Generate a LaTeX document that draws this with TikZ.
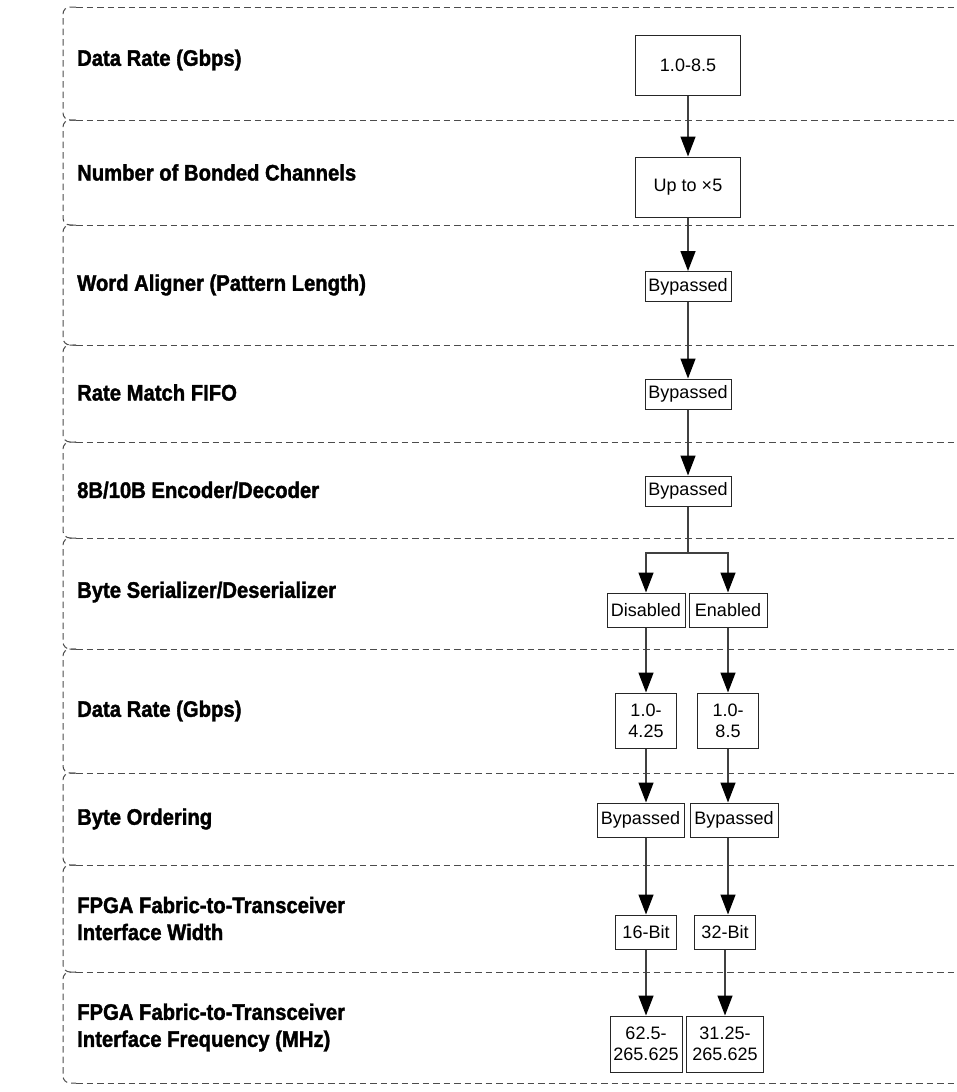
\documentclass[tikz,border=0pt]{standalone}
\usepackage{fontspec}
\setmainfont{Liberation Sans}
\newfontfamily\labelfont{Liberation Sans}[FakeStretch=0.9,BoldFeatures={FakeBold=1.6}]
\usetikzlibrary{arrows.meta}
\begin{document}
\begin{tikzpicture}[x=1pt,y=-1pt,
  band/.style={draw=black!70,line width=1pt,dash pattern=on 6.5pt off 4pt},
  lbl/.style={anchor=west,inner sep=0pt,align=left,font=\labelfont\bfseries\fontsize{22.5}{27}\selectfont},
  box/.style={draw=black!85,line width=1pt,inner sep=0pt,align=center,font=\fontsize{18}{21}\selectfont},
  arr/.style={draw=black!75,line width=1.4pt,-{Triangle[length=20pt,width=15pt,color=black]}},
  ln/.style={draw=black!75,line width=1.4pt}]
\useasboundingbox (0,0) rectangle (957,1092);
% bands
\foreach \t/\b in {7/120,120/225,225/345,345/442,442/538,538/649,649/773,773/865,865/972,972/1083}
  \draw[band,rounded corners=7pt] (76,\t) -- (63,\t) -- (63,\b) -- (76,\b);
\foreach \y in {7,120,225,345,442,538,649,773,865,972,1083}
  \draw[band] (76,\y) -- (962,\y);
% labels
\node[lbl] (l1) at (77,60) {Data Rate (Gbps)};
\node[lbl] (l2) at (77,172.5) {Number of Bonded Channels};
\node[lbl] (l3) at (77,285) {Word Aligner (Pattern Length)};
\node[lbl] (l4) at (77,392.5) {Rate Match FIFO};
\node[lbl] (l5) at (77,490) {8B/10B Encoder/Decoder};
\node[lbl] (l6) at (77,592) {Byte Serializer/Deserializer};
\node[lbl] (l7) at (77,711) {Data Rate (Gbps)};
\node[lbl] (l8) at (77,819) {Byte Ordering};
\node[lbl] (l9) at (77,918.5) {FPGA Fabric-to-Transceiver\\Interface Width};
\node[lbl] (l10) at (77,1027.5) {FPGA Fabric-to-Transceiver\\Interface Frequency (MHz)};
% boxes
\node[box,minimum width=105,minimum height=60] (dr) at (688,65) {1.0-8.5};
\node[box,minimum width=105,minimum height=60] (bc) at (688,187) {Up to ×5};
\node[box,minimum width=86,minimum height=30] (wa) at (688,286.5) {Bypassed};
\node[box,minimum width=86,minimum height=30] (rm) at (688,394) {Bypassed};
\node[box,minimum width=86,minimum height=30] (ed) at (688,491) {Bypassed};
\coordinate (split) at (688,553);
\node[box,minimum width=78,minimum height=34] (dis) at (646,610) {Disabled};
\node[box,minimum width=78,minimum height=34] (en) at (728,610) {Enabled};
\node[box,minimum width=61,minimum height=55] (r1) at (646,720.5) {1.0-\\4.25};
\node[box,minimum width=61,minimum height=55] (r2) at (728,720.5) {1.0-\\8.5};
\node[box,minimum width=87,minimum height=34] (bo1) at (640.5,820) {Bypassed};
\node[box,minimum width=88,minimum height=34] (bo2) at (734,820) {Bypassed};
\node[box,minimum width=61,minimum height=34] (w1) at (646,932) {16-Bit};
\node[box,minimum width=61,minimum height=34] (w2) at (725,932) {32-Bit};
\node[box,minimum width=72,minimum height=56] (f1) at (646,1044) {62.5-\\265.625};
\node[box,minimum width=77,minimum height=56] (f2) at (725,1044) {31.25-\\265.625};
% connectors
\draw[arr] (dr) -- (bc);
\draw[arr] (bc) -- (wa);
\draw[arr] (wa) -- (rm);
\draw[arr] (rm) -- (ed);
\draw[ln] (ed.south) -- (split);
\draw[arr] (split) -| (dis.north);
\draw[arr] (split) -| (en.north);
\draw[arr] (dis) -- (r1);
\draw[arr] (en) -- (r2);
\draw[arr] (r1.south) -- (r1.south |- bo1.north);
\draw[arr] (r2.south) -- (r2.south |- bo2.north);
\draw[arr] (bo1.south -| w1.north) -- (w1.north);
\draw[arr] (bo2.south -| r2.south) -- (r2.south |- w2.north);
\draw[arr] (w1) -- (f1);
\draw[arr] (w2) -- (f2);
\end{tikzpicture}
\end{document}
